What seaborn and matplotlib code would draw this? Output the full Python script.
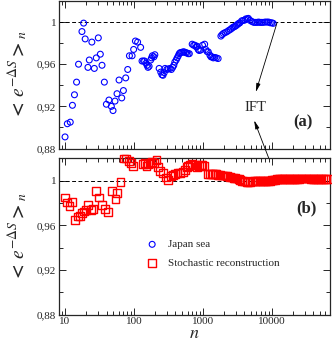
import numpy as np
import pandas as pd
import seaborn as sns
import matplotlib
matplotlib.use('Agg')
import matplotlib.pyplot as plt
from matplotlib.ticker import FixedLocator, FuncFormatter, LogLocator, NullFormatter

# Japan sea (blue circles)
n_japan = [10, 10.8, 11.9, 12.8, 13.7, 14.7, 15.7, 17.6, 18.6, 19.6, 21.5, 22.5, 24.5,
           26.6, 28.4, 30.4, 32.5, 34.4, 37.2, 39.8, 43.4, 47, 49.7, 53.1, 56.8, 60.8,
           66.5, 70.3, 75.9, 81.2, 86, 94, 99, 105, 113, 125, 131, 138, 143, 150, 155,
           160, 166, 175, 180, 185, 195, 201, 232, 245, 255, 264, 275, 283, 300, 314,
           335, 349, 365, 379, 392, 410, 424, 440, 454, 470, 492, 515, 536, 560, 582,
           610, 636, 700, 735, 766, 800, 828, 855, 884, 930, 990, 1062, 1100, 1150,
           1199, 1265, 1310, 1360, 1420, 1487, 1570, 1665, 1828, 1900, 1988, 2100,
           2233, 2370, 2508, 2620, 2730, 2850, 2962, 3090, 3210, 3330, 3443, 3670,
           3860, 4090, 4208, 4440, 4573, 4860, 5150, 5476, 5800, 6112, 6430, 6760,
           7100, 7500, 8000, 8500, 9000, 9500, 10000, 10500]
v_japan = [0.891, 0.9035, 0.905, 0.921, 0.931, 0.943, 0.960, 0.991, 0.999, 0.984, 0.957,
           0.964, 0.981, 0.956, 0.966, 0.985, 0.9695, 0.959, 0.943, 0.922, 0.926, 0.920,
           0.916, 0.925, 0.932, 0.945, 0.928, 0.935, 0.947, 0.955, 0.968, 0.968, 0.974,
           0.982, 0.981, 0.976, 0.963, 0.963, 0.963, 0.961, 0.959, 0.957, 0.958, 0.964,
           0.966, 0.968, 0.967, 0.969, 0.956, 0.9525, 0.950, 0.9495, 0.952, 0.956,
           0.955, 0.9555, 0.956, 0.955, 0.957, 0.959, 0.962, 0.964, 0.966, 0.968,
           0.970, 0.971, 0.9712, 0.9717, 0.9717, 0.971, 0.9708, 0.970, 0.970, 0.979,
           0.978, 0.978, 0.9765, 0.977, 0.974, 0.973, 0.9735, 0.978, 0.979, 0.974,
           0.972, 0.9717, 0.9686, 0.967, 0.967, 0.966, 0.9664, 0.966, 0.9654, 0.9867,
           0.988, 0.9892, 0.990, 0.9908, 0.992, 0.993, 0.994, 0.995, 0.9955, 0.9962,
           0.997, 0.998, 0.9988, 0.9993, 1.0012, 1.0015, 1.002, 1.003, 1.003, 1.0035,
           1.0015, 1.0005, 0.9997, 0.9997, 0.9997, 1.000, 0.9997, 0.9997, 0.9997,
           1.0, 1.0, 1.0, 0.9993, 0.9993, 0.9988]

# Stochastic reconstruction (red squares)
n_stoch = [9.9, 10.8, 11.6, 12.7, 13.8, 15.4, 16.4, 17.5, 18.8, 20.0, 21.5, 23.5, 25.4,
           28.4, 31, 34.4, 37.6, 42, 48, 53.9, 57.4, 63.7, 71.8, 76, 84, 90, 98, 137,
           145, 152, 162, 170, 183, 195, 212, 225, 240, 264, 290, 314, 340, 365, 392,
           428, 464, 520, 550, 582, 615, 650, 700, 766, 828, 880, 930, 980, 1040, 1199,
           1265, 1340, 1410, 1487, 1570, 1665, 1770, 1880, 1980, 2090, 2210, 2330,
           2460, 2600, 2780, 2960, 3120, 3300, 3490, 3690, 3900, 4100, 4330, 4570,
           4830, 5100, 5400, 5700, 6000, 6350, 6700, 7100, 7500, 7900, 8400, 8900,
           9400, 10000, 10600, 11200, 11800, 12500, 13300, 14000, 14800, 15700,
           16600, 17600, 18600, 19700, 20900, 22100, 23400, 24800, 26300, 27800,
           29500, 31200, 33000, 35000, 37000, 39200, 41500, 44000, 46600, 49300,
           52200, 55300, 58600, 62000, 65600]
v_stoch = [0.985, 0.9805, 0.977, 0.981, 0.965, 0.968, 0.9685, 0.971, 0.9724, 0.974,
           0.978, 0.974, 0.975, 0.991, 0.985, 0.978, 0.975, 0.972, 0.991, 0.984, 0.989,
           0.999, 1.020, 1.020, 1.018, 1.016, 1.013, 1.015, 1.016, 1.013, 1.015, 1.016,
           1.017, 1.016, 1.019, 1.012, 1.009, 1.007, 1.003, 1.001, 1.0045, 1.005,
           1.0063, 1.0068, 1.007, 1.0075, 1.010, 1.0123, 1.0135, 1.0144, 1.0153,
           1.0144, 1.0123, 1.013, 1.0144, 1.014, 1.0135, 1.0063, 1.0063, 1.0063,
           1.0063, 1.0063, 1.006, 1.0054, 1.005, 1.0048, 1.0048, 1.0048, 1.0044,
           1.0039, 1.0035, 1.003, 1.0027, 1.0024, 1.002, 1.0015, 1.0008, 1.0, 0.9997,
           0.9994, 0.9992, 0.9988, 0.9992, 0.9994, 0.9995, 0.9995, 0.9995, 0.9996,
           0.9996, 0.9996, 0.9996, 0.9997, 0.9997, 0.9998, 1.0, 1.0005, 1.0008, 1.001,
           1.0015, 1.0015, 1.0015, 1.0017, 1.0017, 1.0017, 1.0017, 1.0015, 1.0015,
           1.0015, 1.0017, 1.0017, 1.0017, 1.0018, 1.002, 1.002, 1.002, 1.002, 1.002,
           1.002, 1.0018, 1.0018, 1.0018, 1.0018, 1.0018, 1.0018, 1.0018, 1.0016,
           1.0015, 1.0015, 1.0015]

yticks = [0.88, 0.92, 0.96, 1.0]
ytick_labels = ['0,88', '0,92', '0,96', '1']
xticks = [10, 100, 1000, 10000]

sns.set_style('ticks')
plt.rcParams['font.family'] = ['Liberation Serif', 'DejaVu Serif']
plt.rcParams['mathtext.fontset'] = 'stix'

fig = plt.figure(figsize=(3.32, 3.41), dpi=100)
ax1 = fig.add_axes([0.178, 0.5645, 0.816, 0.4326])
ax2 = fig.add_axes([0.178, 0.0777, 0.816, 0.4575])

df1 = pd.DataFrame({'n': n_japan, 'v': v_japan})
df2 = pd.DataFrame({'n': n_stoch, 'v': v_stoch})

sns.scatterplot(data=df1, x='n', y='v', ax=ax1, marker='o', s=18,
                facecolor='none', edgecolor='blue', linewidth=0.8, zorder=3,
                label='Japan sea', legend=False)
sns.scatterplot(data=df2, x='n', y='v', ax=ax2, marker='s', s=32,
                facecolor='none', edgecolor='red', linewidth=1.0, zorder=3,
                label='Stochastic reconstruction', legend=False, clip_on=False)

for ax in (ax1, ax2):
    ax.axhline(1.0, color='k', ls='--', lw=0.7, dashes=(4, 2.5), zorder=1)
    ax.set_xscale('log')
    ax.set_xlim(8.2, 70000)
    ax.set_ylim(0.88, 1.02)
    ax.xaxis.set_major_locator(FixedLocator(xticks))
    ax.xaxis.set_minor_locator(LogLocator(base=10, subs=np.arange(2, 10)))
    ax.xaxis.set_minor_formatter(NullFormatter())
    ax.yaxis.set_major_locator(FixedLocator(yticks))
    ax.yaxis.set_minor_locator(FixedLocator([0.90, 0.94, 0.98]))
    ax.set_yticklabels(ytick_labels)
    ax.tick_params(which='both', direction='in', top=True, right=True,
                   labelsize=8, width=0.7, pad=2)
    ax.tick_params(which='major', length=5)
    ax.tick_params(which='minor', length=3)
    for sp in ax.spines.values():
        sp.set_linewidth(0.9)
    ax.set_ylabel(r'$\mathbf{<}\,e^{-\Delta S}\mathbf{>}_n$', fontsize=14, labelpad=5)
    ax.set_xlabel('')

ax1.tick_params(labelbottom=False)
ax2.xaxis.set_major_formatter(FuncFormatter(lambda v, p: '%d' % v))
ax2.set_xlabel(r'$n$', fontsize=13, labelpad=-1)

ax1.text(5730, 0.919, 'IFT', fontsize=10.5, ha='center', va='center')
ax1.text(28600, 0.9048, '(a)', fontsize=12, fontweight='bold', ha='center', va='center')
ax2.text(31700, 0.9748, '(b)', fontsize=12, fontweight='bold', ha='center', va='center')

arrow = dict(arrowstyle='-|>,head_length=0.5,head_width=0.12', color='k', lw=0.6,
             shrinkA=0, shrinkB=0)
ax1.annotate('', xy=(5870, 0.9336), xytext=(11860, 0.9988), arrowprops=arrow)
ax1.annotate('', xy=(5550, 0.9067), xytext=(11200, 1.0054),
             textcoords=ax2.transData, arrowprops=arrow, annotation_clip=False)

handles = [ax1.collections[0], ax2.collections[0]]
ax2.legend(handles=handles, labels=['Japan sea', 'Stochastic reconstruction'],
           loc='upper left', bbox_to_anchor=(0.323, 0.481), frameon=False,
           fontsize=8, handlelength=1, handletextpad=0.9, labelspacing=0.8,
           borderpad=0, borderaxespad=0, scatterpoints=1)

fig.savefig('out.png', dpi=100)
